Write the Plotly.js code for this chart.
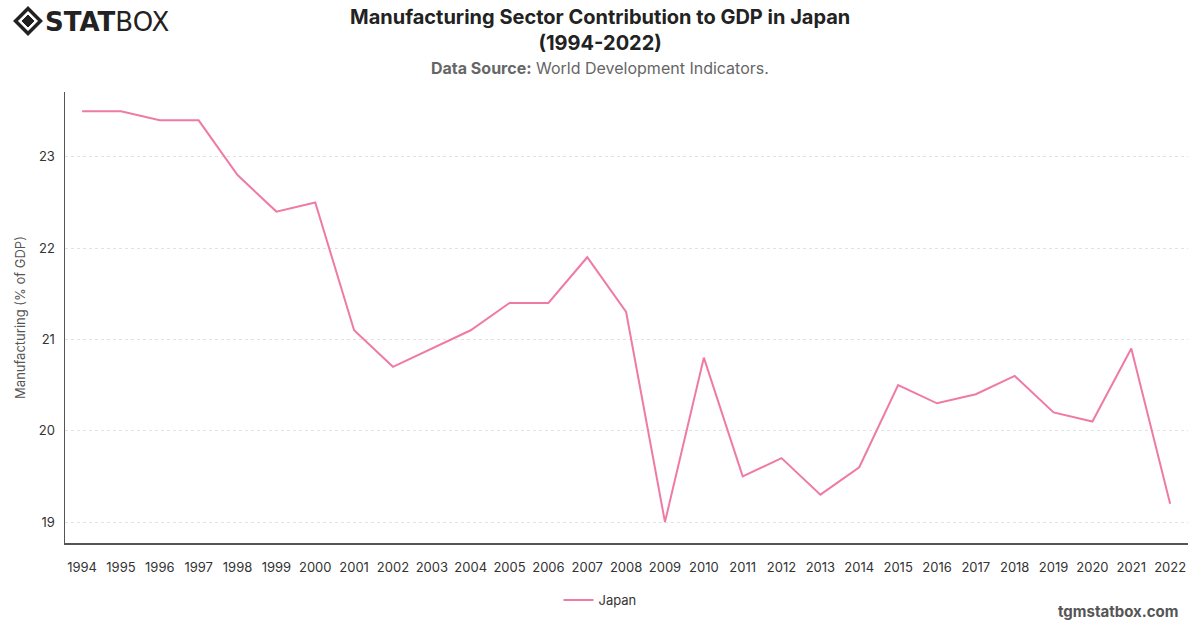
<!DOCTYPE html>
<html>
<head>
<meta charset="utf-8">
<script src="https://cdn.plot.ly/plotly-3.0.1.min.js"></script>
<style>
  html, body { margin: 0; padding: 0; background: #fff; }
  #chart { width: 1200px; height: 628px; }
</style>
</head>
<body>
<div id="chart"></div>
<script>
// Manufacturing, value added (% of GDP) for Japan
const years = [1994, 1995, 1996, 1997, 1998, 1999, 2000, 2001, 2002, 2003,
               2004, 2005, 2006, 2007, 2008, 2009, 2010, 2011, 2012, 2013,
               2014, 2015, 2016, 2017, 2018, 2019, 2020, 2021, 2022];
const japanShare = [23.5, 23.5, 23.4, 23.4, 22.8, 22.4, 22.5, 21.1, 20.7, 20.9,
                    21.1, 21.4, 21.4, 21.9, 21.3, 19.0, 20.8, 19.5, 19.7, 19.3,
                    19.6, 20.5, 20.3, 20.4, 20.6, 20.2, 20.1, 20.9, 19.2];
const yTicks = [19, 20, 21, 22, 23];
const seriesName = 'Japan';

const FONT = 'Inter, "Liberation Sans", Arial, sans-serif';
const LINE_COLOR = '#EF7AA6';

// Page geometry (pixels) used to place the header, logo and footer
const W = 1200, H = 628;
const M = { l: 65, r: 12, t: 92, b: 85 };
const PW = W - M.l - M.r, PH = H - M.t - M.b;
const px = function (x) { return (x - M.l) / PW; };
const py = function (y) { return 1 - (y - M.t) / PH; };

const trace = {
  x: years,
  y: japanShare,
  type: 'scatter',
  mode: 'lines',
  name: seriesName,
  line: { color: LINE_COLOR, width: 2 },
  hovertemplate: '%{x}: %{y}<extra></extra>'
};

// diamond-shaped logo mark
const cx = 28, cy = 21;
function diamond(r) {
  return 'M ' + px(cx - r) + ',' + py(cy) +
         ' L ' + px(cx) + ',' + py(cy - r) +
         ' L ' + px(cx + r) + ',' + py(cy) +
         ' L ' + px(cx) + ',' + py(cy + r) + ' Z';
}

const layout = {
  width: W,
  height: H,
  paper_bgcolor: '#ffffff',
  plot_bgcolor: '#ffffff',
  font: { family: FONT, color: '#333333', size: 13 },
  margin: M,
  xaxis: {
    type: 'linear',
    range: [1993.56, 2022.46],
    tickmode: 'array',
    tickvals: years,
    ticktext: years.map(String),
    showgrid: false,
    zeroline: false,
    showline: true,
    linecolor: '#555555',
    linewidth: 1.5,
    ticks: 'outside',
    ticklen: 12,
    tickcolor: 'rgba(0,0,0,0)',
    tickfont: { family: FONT, size: 13, color: '#333333' },
    automargin: false
  },
  yaxis: {
    range: [18.77, 23.71],
    tickmode: 'array',
    tickvals: yTicks,
    ticktext: yTicks.map(String),
    showgrid: true,
    gridcolor: '#e2e2e2',
    griddash: 'dot',
    gridwidth: 1,
    zeroline: false,
    showline: true,
    linecolor: '#555555',
    linewidth: 1.5,
    ticks: 'outside',
    ticklen: 6,
    tickcolor: 'rgba(0,0,0,0)',
    tickfont: { family: FONT, size: 13, color: '#333333' },
    title: {
      text: 'Manufacturing (% of GDP)',
      font: { family: FONT, size: 13, color: '#555555' },
      standoff: 10
    },
    automargin: false
  },
  showlegend: true,
  legend: {
    orientation: 'h',
    xref: 'container', yref: 'container',
    x: 0.5, xanchor: 'center',
    y: 1 - 600 / H, yanchor: 'middle',
    font: { family: FONT, size: 13, color: '#333333' },
    bgcolor: 'rgba(0,0,0,0)'
  },
  shapes: [
    { type: 'path', xref: 'paper', yref: 'paper', path: diamond(12.5),
      line: { color: '#222222', width: 3.5 }, fillcolor: 'rgba(0,0,0,0)' },
    { type: 'path', xref: 'paper', yref: 'paper', path: diamond(6),
      line: { color: '#222222', width: 1 }, fillcolor: '#222222' }
  ],
  annotations: [
    {
      text: '<b>Manufacturing Sector Contribution to GDP in Japan<br>(1994-2022)</b>',
      xref: 'paper', yref: 'paper',
      x: px(600), xanchor: 'center',
      y: py(30), yanchor: 'middle',
      showarrow: false,
      font: { family: FONT, size: 20, color: '#222222' }
    },
    {
      text: '<b>Data Source:</b> World Development Indicators.',
      xref: 'paper', yref: 'paper',
      x: px(600), xanchor: 'center',
      y: py(68), yanchor: 'middle',
      showarrow: false,
      font: { family: FONT, size: 16, color: '#666666' }
    },
    {
      text: '<b>tgmstatbox.com</b>',
      xref: 'paper', yref: 'paper',
      x: px(1181), xanchor: 'right',
      y: py(611), yanchor: 'middle',
      showarrow: false,
      font: { family: FONT, size: 15, color: '#555555' }
    },
    {
      text: '<b>STAT</b>BOX',
      xref: 'paper', yref: 'paper',
      x: px(43), xanchor: 'left',
      y: py(22), yanchor: 'middle',
      showarrow: false,
      font: { family: '"DejaVu Sans", Arial, sans-serif', size: 26, color: '#222222' }
    }
  ]
};

Plotly.newPlot('chart', [trace], layout, { displayModeBar: false, staticPlot: true });
</script>
</body>
</html>
